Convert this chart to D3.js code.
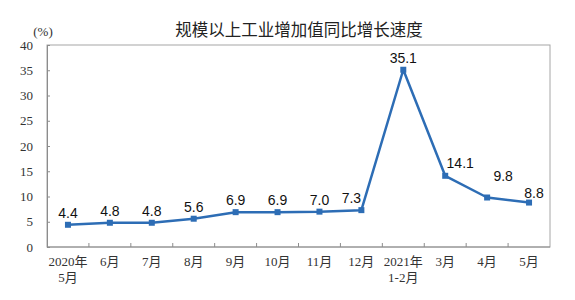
<!DOCTYPE html>
<html>
<head>
<meta charset="utf-8">
<script src="https://cdn.jsdelivr.net/npm/d3@7"></script>
<style>
  html, body { margin: 0; padding: 0; background: #fff; }
  svg { display: block; }
</style>
</head>
<body>
<div id="chart"></div>
<script>
// categories (two-line labels split on "\n")
const months = ["2020年\n5月", "6月", "7月", "8月", "9月", "10月", "11月", "12月", "2021年\n1-2月", "3月", "4月", "5月"];
// growth rate, %
const growth = [4.4, 4.8, 4.8, 5.6, 6.9, 6.9, 7.0, 7.3, 35.1, 14.1, 9.8, 8.8];
const yTicks = [0, 5, 10, 15, 20, 25, 30, 35, 40];

const W = 575, H = 300;
const margin = { top: 45, right: 25, bottom: 53, left: 47 };
const width = W - margin.left - margin.right;
const height = H - margin.top - margin.bottom;
const blue = "#2d6db5";
const serif = "'Liberation Serif', 'Times New Roman', 'Noto Sans CJK SC', serif";
const sans = "'Liberation Sans', Arial, 'Noto Sans CJK SC', sans-serif";

const svg = d3.select("#chart").append("svg")
    .attr("width", W)
    .attr("height", H);

const g = svg.append("g")
    .attr("transform", `translate(${margin.left},${margin.top})`);

// scales
const x = d3.scaleBand().domain(months).range([0, width]);
const y = d3.scaleLinear().domain([0, 40]).range([height, 0]);

// plot frame
g.append("rect")
    .attr("width", width)
    .attr("height", height)
    .attr("fill", "none")
    .attr("stroke", "#a6a6a6")
    .attr("stroke-width", 1);

// y axis
const yAxis = g.append("g")
    .call(d3.axisLeft(y).tickValues(yTicks).tickSize(-3).tickPadding(14));
yAxis.select(".domain").attr("stroke", "#8c8c8c");
yAxis.selectAll(".tick line").attr("stroke", "#8c8c8c");
yAxis.selectAll("text")
    .attr("fill", "#333")
    .style("font-family", serif)
    .style("font-size", "13px");

// x axis: ticks between categories, pointing inward
const bounds = months.slice(1).map(m => x(m));
const xAxis = g.append("g").attr("transform", `translate(0,${height})`);
xAxis.append("line")
    .attr("x1", 0).attr("x2", width)
    .attr("stroke", "#8c8c8c");
xAxis.selectAll(".tk")
    .data(bounds)
    .enter()
    .append("line")
    .attr("x1", d => d).attr("x2", d => d)
    .attr("y1", 0).attr("y2", -4)
    .attr("stroke", "#8c8c8c");

const xLabels = xAxis.selectAll(".xl")
    .data(months)
    .enter()
    .append("text")
    .attr("x", d => x(d) + x.bandwidth() / 2)
    .attr("y", 19)
    .attr("text-anchor", "middle")
    .attr("fill", "#333")
    .style("font-family", serif)
    .style("font-size", "13px");
xLabels.each(function (d) {
    const parts = d.split("\n");
    const t = d3.select(this);
    parts.forEach((p, i) => {
        t.append("tspan")
            .attr("x", x(d) + x.bandwidth() / 2)
            .attr("dy", i === 0 ? 0 : 16)
            .text(p);
    });
});

// unit label
svg.append("text")
    .attr("x", 43)
    .attr("y", 36)
    .attr("text-anchor", "middle")
    .attr("fill", "#333")
    .style("font-family", serif)
    .style("font-size", "13px")
    .text("(%)");

// title
svg.append("text")
    .attr("x", 299)
    .attr("y", 36)
    .attr("text-anchor", "middle")
    .attr("fill", "#222")
    .style("font-family", "'Noto Sans CJK SC', sans-serif")
    .style("font-size", "16.5px")
    .text("规模以上工业增加值同比增长速度");

// line
const line = d3.line()
    .x((d, i) => x(months[i]) + x.bandwidth() / 2)
    .y(d => y(d));

g.append("path")
    .datum(growth)
    .attr("fill", "none")
    .attr("stroke", blue)
    .attr("stroke-width", 2.5)
    .attr("stroke-linejoin", "round")
    .attr("d", line);

g.selectAll(".pt")
    .data(growth)
    .enter()
    .append("rect")
    .attr("x", (d, i) => x(months[i]) + x.bandwidth() / 2 - 3)
    .attr("y", d => y(d) - 3)
    .attr("width", 6)
    .attr("height", 6)
    .attr("fill", blue);

// value labels (some nudged off the line)
const labelShift = { 7: [-10, -7], 9: [15, -8], 10: [16, -17], 11: [5, -5] };
g.selectAll(".lbl")
    .data(growth)
    .enter()
    .append("text")
    .attr("x", (d, i) => x(months[i]) + x.bandwidth() / 2 + (labelShift[i] ? labelShift[i][0] : 0))
    .attr("y", (d, i) => y(d) + (labelShift[i] ? labelShift[i][1] : -7))
    .attr("text-anchor", "middle")
    .attr("fill", "#111")
    .style("font-family", sans)
    .style("font-size", "14px")
    .text(d => d.toFixed(1));
</script>
</body>
</html>
